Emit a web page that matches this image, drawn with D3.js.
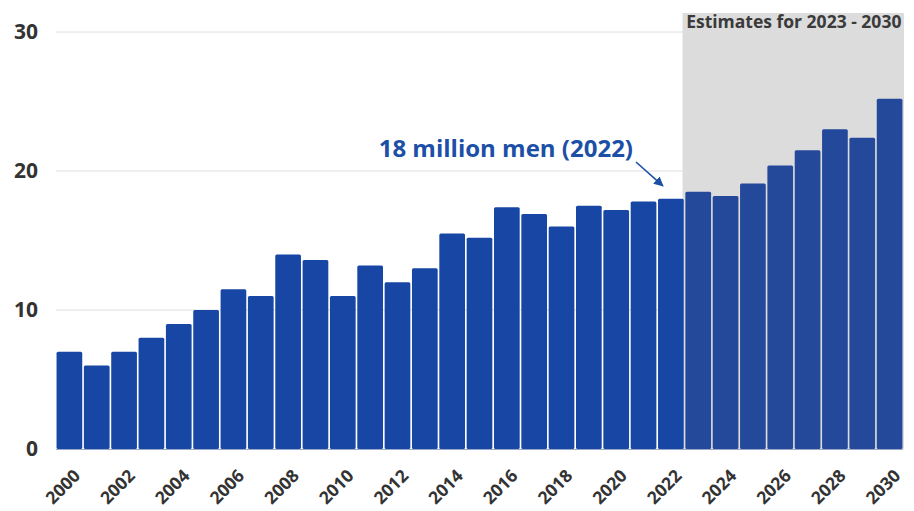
<!DOCTYPE html>
<html><head><meta charset="utf-8">
<script src="https://cdn.jsdelivr.net/npm/d3@7"></script>
<style>body{margin:0;background:#fff;}svg{display:block;font-family:"Open Sans",sans-serif;}</style>
</head><body><svg id="c" width="914" height="511"></svg>
<script>
const years = [2000,2001,2002,2003,2004,2005,2006,2007,2008,2009,2010,2011,2012,2013,2014,2015,2016,2017,2018,2019,2020,2021,2022,2023,2024,2025,2026,2027,2028,2029,2030];
const values = [7,6,7,8,9,10,11.5,11,14,13.6,11,13.2,12,13,15.5,15.2,17.4,16.9,16,17.5,17.2,17.8,18,18.5,18.2,19.1,20.4,21.5,23,22.4,25.2];
const yTicks = [0,10,20,30];
const estimateStart = 2023;
const estimateLabel = "Estimates for 2023 - 2030";
const annotation = "18 million men (2022)";

const svg = d3.select("#c");
const m = {l:56, r:11, t:32, b:62};
const W = 914, H = 511;
const x = d3.scaleBand().domain(years).range([m.l, W-m.r]).paddingInner(0.06).paddingOuter(0.02);
const y = d3.scaleLinear().domain([0,30]).range([H-m.b, m.t]);

// estimates shading
const xs = x(estimateStart) - x.step()*x.paddingInner()/2 - 2;
svg.append("rect").attr("x", xs).attr("y", 13).attr("width", W-m.r - xs + 1).attr("height", y(0)-13).attr("fill","#dcdcdc");
svg.append("text").attr("x", (xs + W - m.r)/2 + 1).attr("y", 28).attr("text-anchor","middle")
  .attr("font-size",17.5).attr("font-weight",700).attr("fill","#3a3a3a").text(estimateLabel);

// grid
svg.append("g").selectAll("line").data(yTicks.filter(d=>d>0)).join("line")
  .attr("x1", m.l).attr("x2", W-m.r).attr("y1", d=>y(d)).attr("y2", d=>y(d))
  .attr("stroke","#dedede").attr("stroke-width",1);

// y axis labels
const ya = svg.append("g").attr("transform",`translate(${m.l-18},0)`)
  .call(d3.axisLeft(y).tickValues(yTicks).tickSize(0).tickPadding(0));
ya.select(".domain").remove();
ya.selectAll("text").attr("font-size",21).attr("font-weight",700).attr("fill","#333").attr("font-family","Open Sans");

// bars
svg.append("g").selectAll("rect").data(years).join("rect")
  .attr("x", d=>x(d)).attr("width", x.bandwidth())
  .attr("y", (d,i)=>y(values[i])).attr("height", (d,i)=>y(0)-y(values[i]))
  .attr("rx",1.5)
  .attr("fill", d=> d>=estimateStart ? "#24489a" : "#1746a4");

// baseline
svg.append("line").attr("x1", m.l).attr("x2", W-m.r).attr("y1", y(0)+0.5).attr("y2", y(0)+0.5).attr("stroke","#9aa9c8").attr("stroke-width",1);

// x axis labels
const xa = svg.append("g").attr("transform",`translate(0,${y(0)})`)
  .call(d3.axisBottom(x).tickValues(years.filter(d=>d%2===0)).tickSize(0).tickPadding(0));
xa.select(".domain").remove();
xa.selectAll("text").attr("font-size",17.5).attr("font-weight",700).attr("fill","#333").attr("font-family","Open Sans")
  .attr("text-anchor","end").attr("dy",null).attr("y",0)
  .attr("transform","translate(12,28) rotate(-45)");

// annotation
const a22 = x(2022) + x.bandwidth()/2;
svg.append("text").attr("x", 633).attr("y", 157).attr("text-anchor","end")
  .attr("font-size",24).attr("font-weight",700).attr("fill","#1c4fa6").text(annotation);
svg.append("defs").append("marker").attr("id","ah").attr("viewBox","0 0 10 10").attr("refX",9).attr("refY",5)
  .attr("markerWidth",6).attr("markerHeight",6).attr("orient","auto")
  .append("path").attr("d","M0,0L10,5L0,10z").attr("fill","#1c4fa6");
svg.append("line").attr("x1",636).attr("y1",162).attr("x2",a22-8).attr("y2",y(values[22])-13)
  .attr("stroke","#1c4fa6").attr("stroke-width",1.6).attr("marker-end","url(#ah)");
</script></body></html>
